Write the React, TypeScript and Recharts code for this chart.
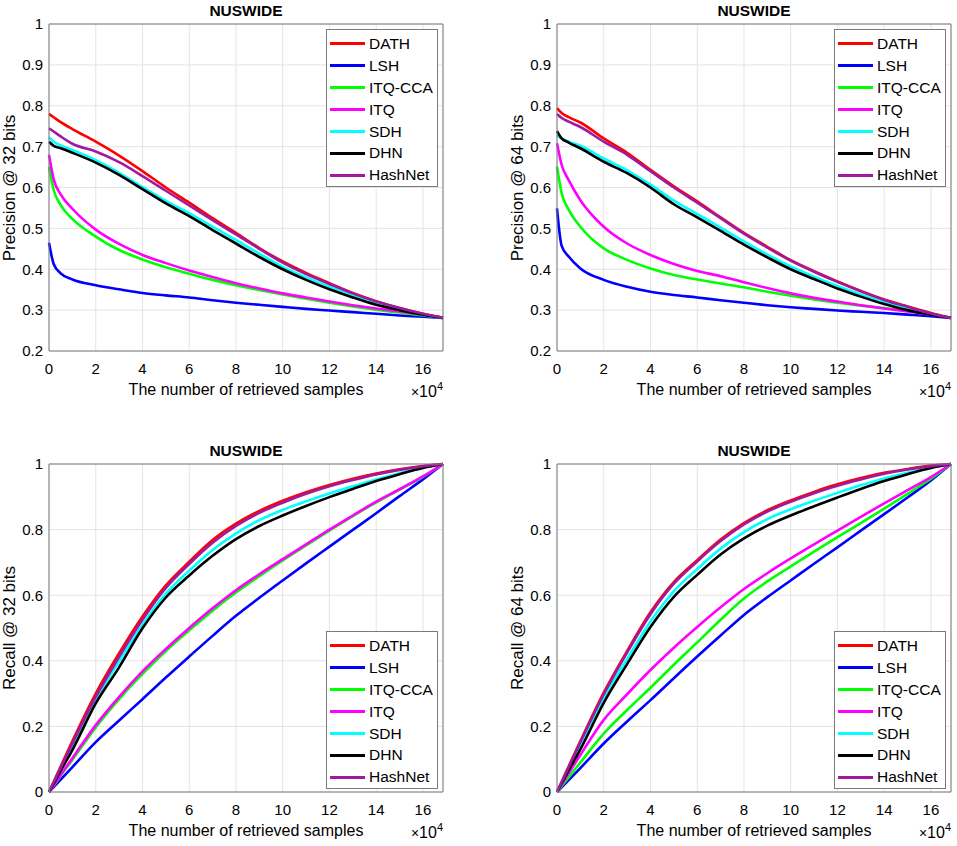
import { LineChart, Line, XAxis, YAxis, CartesianGrid, Legend } from "recharts";

const methods = ["DATH", "LSH", "ITQ-CCA", "ITQ", "SDH", "DHN", "HashNet"];
const colors = ["#ff0000", "#0000ff", "#00ff00", "#ff00ff", "#00ffff", "#000000", "#a01aa0"];

// number of retrieved samples, in units of 10^4
const samples = [0, 0.2, 0.5, 1, 2, 3, 4, 5, 6, 7, 8, 9, 10, 11, 12, 13, 14, 15, 16, 16.86];
const xTicks = [0, 2, 4, 6, 8, 10, 12, 14, 16];
const precisionTicks = [0.2, 0.3, 0.4, 0.5, 0.6, 0.7, 0.8, 0.9, 1];
const recallTicks = [0, 0.2, 0.4, 0.6, 0.8, 1];

// rows follow the order of `methods`
const precision32 = [
  [0.78, 0.772, 0.76, 0.743, 0.712, 0.678, 0.64, 0.6, 0.563, 0.525, 0.489, 0.452, 0.419, 0.391, 0.366, 0.342, 0.322, 0.305, 0.291, 0.281],
  [0.465, 0.413, 0.39, 0.375, 0.361, 0.351, 0.342, 0.336, 0.331, 0.324, 0.318, 0.313, 0.308, 0.303, 0.299, 0.295, 0.291, 0.287, 0.284, 0.281],
  [0.651, 0.594, 0.557, 0.523, 0.48, 0.447, 0.424, 0.405, 0.389, 0.374, 0.361, 0.349, 0.338, 0.328, 0.318, 0.309, 0.301, 0.294, 0.287, 0.281],
  [0.68, 0.62, 0.583, 0.548, 0.497, 0.462, 0.435, 0.415, 0.397, 0.381, 0.366, 0.353, 0.341, 0.331, 0.321, 0.312, 0.304, 0.297, 0.289, 0.281],
  [0.723, 0.712, 0.703, 0.692, 0.667, 0.636, 0.601, 0.567, 0.537, 0.504, 0.472, 0.438, 0.406, 0.38, 0.357, 0.336, 0.317, 0.302, 0.289, 0.281],
  [0.712, 0.702, 0.696, 0.685, 0.661, 0.631, 0.596, 0.561, 0.53, 0.496, 0.463, 0.43, 0.4, 0.374, 0.351, 0.331, 0.313, 0.3, 0.289, 0.281],
  [0.745, 0.737, 0.725, 0.707, 0.688, 0.662, 0.628, 0.592, 0.556, 0.52, 0.485, 0.45, 0.416, 0.388, 0.364, 0.341, 0.321, 0.305, 0.291, 0.281],
];

const precision64 = [
  [0.794, 0.782, 0.772, 0.759, 0.72, 0.685, 0.643, 0.603, 0.566, 0.527, 0.489, 0.455, 0.422, 0.395, 0.37, 0.347, 0.326, 0.309, 0.293, 0.281],
  [0.549, 0.457, 0.431, 0.402, 0.374, 0.357, 0.345, 0.337, 0.331, 0.324, 0.318, 0.312, 0.307, 0.303, 0.299, 0.296, 0.293, 0.289, 0.285, 0.281],
  [0.651, 0.586, 0.546, 0.504, 0.451, 0.423, 0.402, 0.386, 0.375, 0.365, 0.356, 0.345, 0.335, 0.326, 0.318, 0.311, 0.305, 0.298, 0.29, 0.281],
  [0.708, 0.655, 0.618, 0.569, 0.504, 0.463, 0.435, 0.413, 0.396, 0.383, 0.368, 0.354, 0.341, 0.33, 0.321, 0.312, 0.304, 0.297, 0.289, 0.281],
  [0.728, 0.72, 0.712, 0.702, 0.671, 0.642, 0.607, 0.568, 0.535, 0.502, 0.468, 0.436, 0.407, 0.382, 0.359, 0.338, 0.319, 0.303, 0.29, 0.281],
  [0.738, 0.72, 0.71, 0.696, 0.663, 0.635, 0.6, 0.559, 0.527, 0.494, 0.46, 0.429, 0.4, 0.376, 0.353, 0.333, 0.315, 0.3, 0.289, 0.281],
  [0.78, 0.77, 0.761, 0.748, 0.712, 0.68, 0.64, 0.6, 0.563, 0.525, 0.487, 0.453, 0.421, 0.394, 0.369, 0.346, 0.325, 0.308, 0.292, 0.281],
];

const recall32 = [
  [0, 0.031, 0.078, 0.155, 0.3, 0.423, 0.535, 0.63, 0.702, 0.768, 0.818, 0.857, 0.888, 0.914, 0.936, 0.955, 0.971, 0.984, 0.994, 1],
  [0, 0.015, 0.038, 0.076, 0.152, 0.218, 0.283, 0.349, 0.413, 0.476, 0.537, 0.592, 0.645, 0.697, 0.748, 0.799, 0.85, 0.902, 0.953, 1],
  [0, 0.019, 0.05, 0.098, 0.197, 0.283, 0.36, 0.43, 0.493, 0.553, 0.608, 0.658, 0.706, 0.752, 0.797, 0.841, 0.883, 0.922, 0.961, 1],
  [0, 0.02, 0.052, 0.103, 0.204, 0.29, 0.368, 0.436, 0.5, 0.56, 0.615, 0.664, 0.71, 0.755, 0.8, 0.843, 0.885, 0.923, 0.962, 1],
  [0, 0.027, 0.07, 0.14, 0.282, 0.398, 0.51, 0.605, 0.675, 0.738, 0.788, 0.829, 0.86, 0.886, 0.91, 0.932, 0.953, 0.972, 0.989, 1],
  [0, 0.025, 0.065, 0.128, 0.27, 0.38, 0.499, 0.593, 0.66, 0.72, 0.771, 0.811, 0.843, 0.872, 0.899, 0.924, 0.948, 0.969, 0.988, 1],
  [0, 0.029, 0.074, 0.148, 0.29, 0.412, 0.525, 0.622, 0.695, 0.76, 0.811, 0.851, 0.882, 0.909, 0.932, 0.951, 0.968, 0.982, 0.993, 1],
];

const recall64 = [
  [0, 0.031, 0.078, 0.155, 0.303, 0.43, 0.548, 0.64, 0.707, 0.77, 0.82, 0.859, 0.889, 0.915, 0.938, 0.957, 0.973, 0.985, 0.995, 1],
  [0, 0.014, 0.036, 0.073, 0.148, 0.215, 0.28, 0.347, 0.413, 0.477, 0.54, 0.594, 0.645, 0.696, 0.746, 0.797, 0.847, 0.898, 0.95, 1],
  [0, 0.018, 0.045, 0.09, 0.178, 0.25, 0.318, 0.388, 0.456, 0.525, 0.59, 0.642, 0.688, 0.733, 0.777, 0.82, 0.864, 0.909, 0.955, 1],
  [0, 0.023, 0.057, 0.113, 0.22, 0.298, 0.372, 0.44, 0.503, 0.563, 0.619, 0.667, 0.712, 0.755, 0.797, 0.839, 0.88, 0.92, 0.96, 1],
  [0, 0.028, 0.07, 0.14, 0.288, 0.405, 0.52, 0.612, 0.68, 0.742, 0.792, 0.832, 0.862, 0.888, 0.912, 0.935, 0.956, 0.973, 0.989, 1],
  [0, 0.026, 0.066, 0.13, 0.272, 0.39, 0.503, 0.595, 0.662, 0.724, 0.773, 0.812, 0.843, 0.871, 0.898, 0.924, 0.948, 0.969, 0.988, 1],
  [0, 0.03, 0.076, 0.152, 0.298, 0.425, 0.542, 0.635, 0.703, 0.765, 0.816, 0.855, 0.885, 0.911, 0.934, 0.953, 0.97, 0.983, 0.993, 1],
];

const FONT = "'Liberation Sans', Arial, sans-serif";
const BOX = "#7a7a7a";
const GRID = "#e4e4e4";
const X_MAX = 16.86;

const W = 478;
const H = 420;
const PLOT_LEFT = 49;
const PLOT_TOP = 24;
const PLOT_W = 394;

const fmtY = (v: number) => String(Number(v.toFixed(1)));

function LegendBox() {
  return (
    <div
      style={{
        width: 112,
        height: 158,
        boxSizing: "border-box",
        border: `1px solid ${BOX}`,
        background: "#fff",
        paddingTop: 3,
        fontFamily: FONT,
        fontSize: 15.5,
        color: "#000",
      }}
    >
      {methods.map((m, i) => (
        <div key={m} style={{ height: 21.9, display: "flex", alignItems: "center" }}>
          <div style={{ width: 35, height: 3, marginLeft: 3, marginRight: 4, background: colors[i] }} />
          <span>{m}</span>
        </div>
      ))}
    </div>
  );
}

interface PanelProps {
  left: number;
  top: number;
  plotH: number;
  yLabel: string;
  series: number[][];
  yTicks: number[];
  legendTop: number;
}

function Panel({ left, top, plotH, yLabel, series, yTicks, legendTop }: PanelProps) {
  const data = samples.map((x, i) => {
    const row: Record<string, number> = { x };
    methods.forEach((m, k) => (row[m] = series[k][i]));
    return row;
  });
  const yDomain = [yTicks[0], yTicks[yTicks.length - 1]];
  const plotBottom = PLOT_TOP + plotH;
  const text = { position: "absolute" as const, fontFamily: FONT, color: "#000", whiteSpace: "nowrap" as const };

  return (
    <div style={{ position: "absolute", left, top, width: W, height: H }}>
      <LineChart
        width={W}
        height={H}
        data={data}
        margin={{ top: PLOT_TOP, right: W - PLOT_LEFT - PLOT_W, left: PLOT_LEFT - 40, bottom: H - PLOT_TOP - plotH - 30 }}
      >
        <CartesianGrid stroke={GRID} strokeWidth={1} />
        <XAxis
          dataKey="x"
          type="number"
          domain={[0, X_MAX]}
          ticks={xTicks}
          height={30}
          tickLine={false}
          tickMargin={6}
          stroke={BOX}
          tick={{ fill: "#000", fontSize: 15, fontFamily: FONT }}
        />
        <XAxis xAxisId="bin" type="number" domain={[0, X_MAX]} ticks={xTicks} mirror tick={false} axisLine={false} tickSize={4} stroke={BOX} />
        <XAxis xAxisId="top" orientation="top" type="number" domain={[0, X_MAX]} ticks={xTicks} mirror tick={false} tickSize={4} stroke={BOX} />
        <YAxis
          type="number"
          domain={yDomain}
          ticks={yTicks}
          width={40}
          tickLine={false}
          tickMargin={0}
          tickFormatter={fmtY}
          stroke={BOX}
          tick={{ fill: "#000", fontSize: 15, fontFamily: FONT }}
        />
        <YAxis yAxisId="lin" type="number" domain={yDomain} ticks={yTicks} mirror tick={false} axisLine={false} tickSize={4} stroke={BOX} />
        <YAxis yAxisId="right" orientation="right" type="number" domain={yDomain} ticks={yTicks} mirror tick={false} tickSize={4} stroke={BOX} />
        <Legend
          layout="vertical"
          align="center"
          verticalAlign="middle"
          wrapperStyle={{ left: PLOT_LEFT + PLOT_W - 117, top: legendTop, width: 112, height: 158 }}
          content={() => <LegendBox />}
        />
        {methods.map((m, i) => (
          <Line
            key={m}
            type="monotone"
            dataKey={m}
            stroke={colors[i]}
            strokeWidth={2.6}
            dot={false}
            isAnimationActive={false}
          />
        ))}
      </LineChart>
      <div style={{ ...text, left: PLOT_LEFT, width: PLOT_W, top: 2, textAlign: "center", fontSize: 15.5, fontWeight: 700, lineHeight: "18px" }}>
        NUSWIDE
      </div>
      <div style={{ ...text, left: PLOT_LEFT, width: PLOT_W, top: plotBottom + 30, textAlign: "center", fontSize: 16, lineHeight: "18px" }}>
        The number of retrieved samples
      </div>
      <div style={{ ...text, left: PLOT_LEFT + PLOT_W - 50, width: 50, top: plotBottom + 33, textAlign: "right", fontSize: 16, lineHeight: "15px" }}>
        <span style={{ fontSize: 14 }}>×</span>10<sup style={{ fontSize: 11, verticalAlign: "7px", lineHeight: "0" }}>4</sup>
      </div>
      <div
        style={{
          ...text,
          left: 10 - 100,
          width: 200,
          top: PLOT_TOP + plotH / 2 - 10,
          textAlign: "center",
          fontSize: 17,
          lineHeight: "20px",
          transform: "rotate(-90deg)",
        }}
      >
        {yLabel}
      </div>
    </div>
  );
}

export default function App() {
  return (
    <div style={{ position: "absolute", left: 0, top: 0, width: 957, height: 846, background: "#fff", overflow: "hidden" }}>
      <Panel left={0} top={0} plotH={327} yLabel="Precision @ 32 bits" series={precision32} yTicks={precisionTicks} legendTop={29} />
      <Panel left={508} top={0} plotH={327} yLabel="Precision @ 64 bits" series={precision64} yTicks={precisionTicks} legendTop={29} />
      <Panel left={0} top={440} plotH={328} yLabel="Recall @ 32 bits" series={recall32} yTicks={recallTicks} legendTop={191} />
      <Panel left={508} top={440} plotH={328} yLabel="Recall @ 64 bits" series={recall64} yTicks={recallTicks} legendTop={191} />
    </div>
  );
}
